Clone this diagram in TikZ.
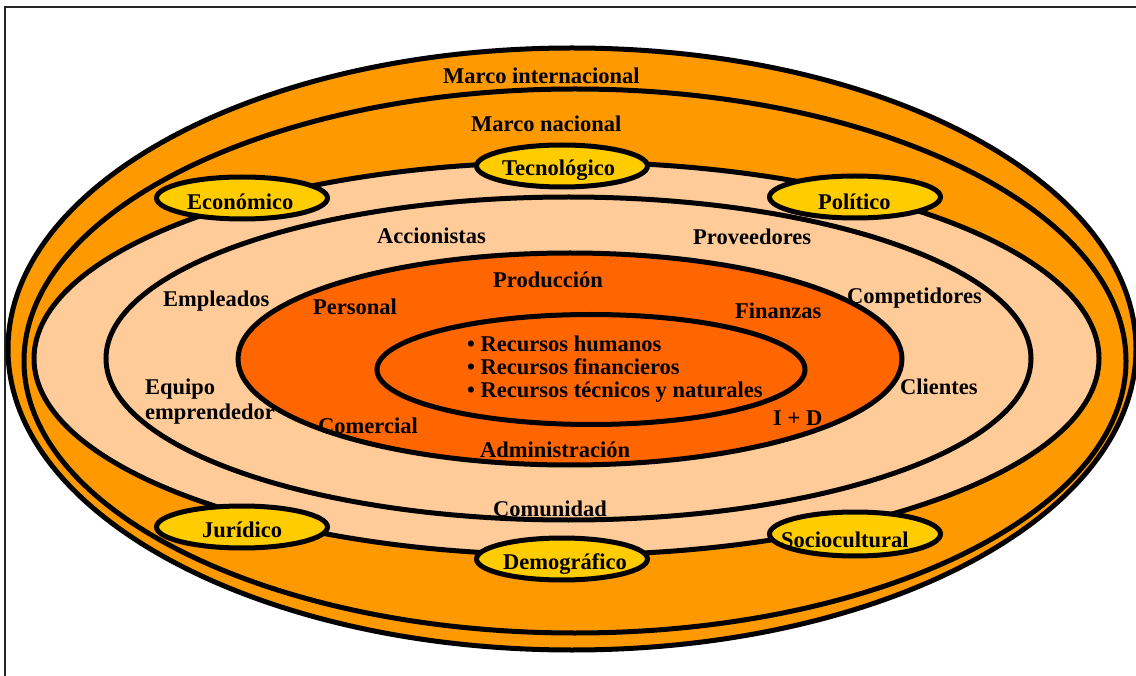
\documentclass[tikz,border=0pt]{standalone}
\usepackage{fontspec}
\setmainfont{Liberation Serif}
\usetikzlibrary{shapes.geometric}
\definecolor{outerorange}{HTML}{FF9900}
\definecolor{peach}{HTML}{FFCC99}
\definecolor{deeporange}{HTML}{FF6600}
\definecolor{gold}{HTML}{FFCC00}
\begin{document}
\begin{tikzpicture}[x=1pt,y=-1pt,
  ring/.style={draw=black,line width=5pt},
  factor/.style={ellipse,draw=black,line width=5pt,fill=gold,inner sep=0pt,
                 minimum width=171pt,minimum height=42pt},
  lbl/.style={anchor=base west,inner sep=0pt,
              font=\fontsize{22.5}{27}\selectfont\bfseries}]
\useasboundingbox (0,0) rectangle (1136,676);
\clip (0,0) rectangle (1136,676);
% page frame
\draw[line width=1.5pt,black!85] (5,7) rectangle (1160,700);

% nested environment rings, outermost first
\path[ring,fill=outerorange] (572,349)   ellipse [x radius=564,  y radius=301];
\path[ring,fill=outerorange] (575,361)   ellipse [x radius=551,  y radius=272];
\path[ring,fill=peach]       (566.5,358.5) ellipse [x radius=532.5,y radius=196.5];
\path[ring,fill=peach]       (568.5,358.5) ellipse [x radius=462.5,y radius=161.5];
\path[ring,fill=deeporange]  (570,359)   ellipse [x radius=332,  y radius=106];
\path[ring,fill=deeporange]  (591,369.5) ellipse [x radius=214,  y radius=55];

% general environment factors
\node[factor] (tec)  at (562,166) {};
\node[factor] (eco)  at (242,198) {};
\node[factor] (pol)  at (855,197) {};
\node[factor] (jur)  at (242,527) {};
\node[factor,minimum height=44pt] (soc) at (855,534) {};
\node[factor] (dem)  at (562,559) {};

% labels
\node[lbl] (tint) at (443,84)  {Marco internacional};
\node[lbl] (tnac) at (471,132) {Marco nacional};
\node[lbl] (ttec) at (502,176) {Tecnológico};
\node[lbl] (teco) at (187,210) {Económico};
\node[lbl] (tpol) at (818,210) {Político};
\node[lbl] (tjur) at (202,537) {Jurídico};
\node[lbl] (tdem) at (503,569) {Demográfico};
\node[lbl] (tsoc) at (781,547) {Sociocultural};

\node[lbl] (acc)  at (377,244) {Accionistas};
\node[lbl] (prov) at (693,245) {Proveedores};
\node[lbl] (emp)  at (163,307) {Empleados};
\node[lbl] (comp) at (847,304) {Competidores};
\node[lbl] (eq1)  at (145,395) {Equipo};
\node[lbl] (eq2)  at (145,420) {emprendedor};
\node[lbl] (cli)  at (900,395) {Clientes};
\node[lbl] (comu) at (493,516) {Comunidad};

\node[lbl] (prod) at (493,288) {Producción};
\node[lbl] (pers) at (313,315) {Personal};
\node[lbl] (fin)  at (735,319) {Finanzas};
\node[lbl] (come) at (318,434) {Comercial};
\node[lbl] (imd)  at (773,426) {I + D};
\node[lbl] (adm)  at (480,457) {Administración};

\node[lbl] (r1) at (467,352) {• Recursos humanos};
\node[lbl] (r2) at (467,375) {• Recursos financieros};
\node[lbl] (r3) at (467,398) {• Recursos técnicos y naturales};
\end{tikzpicture}
\end{document}
